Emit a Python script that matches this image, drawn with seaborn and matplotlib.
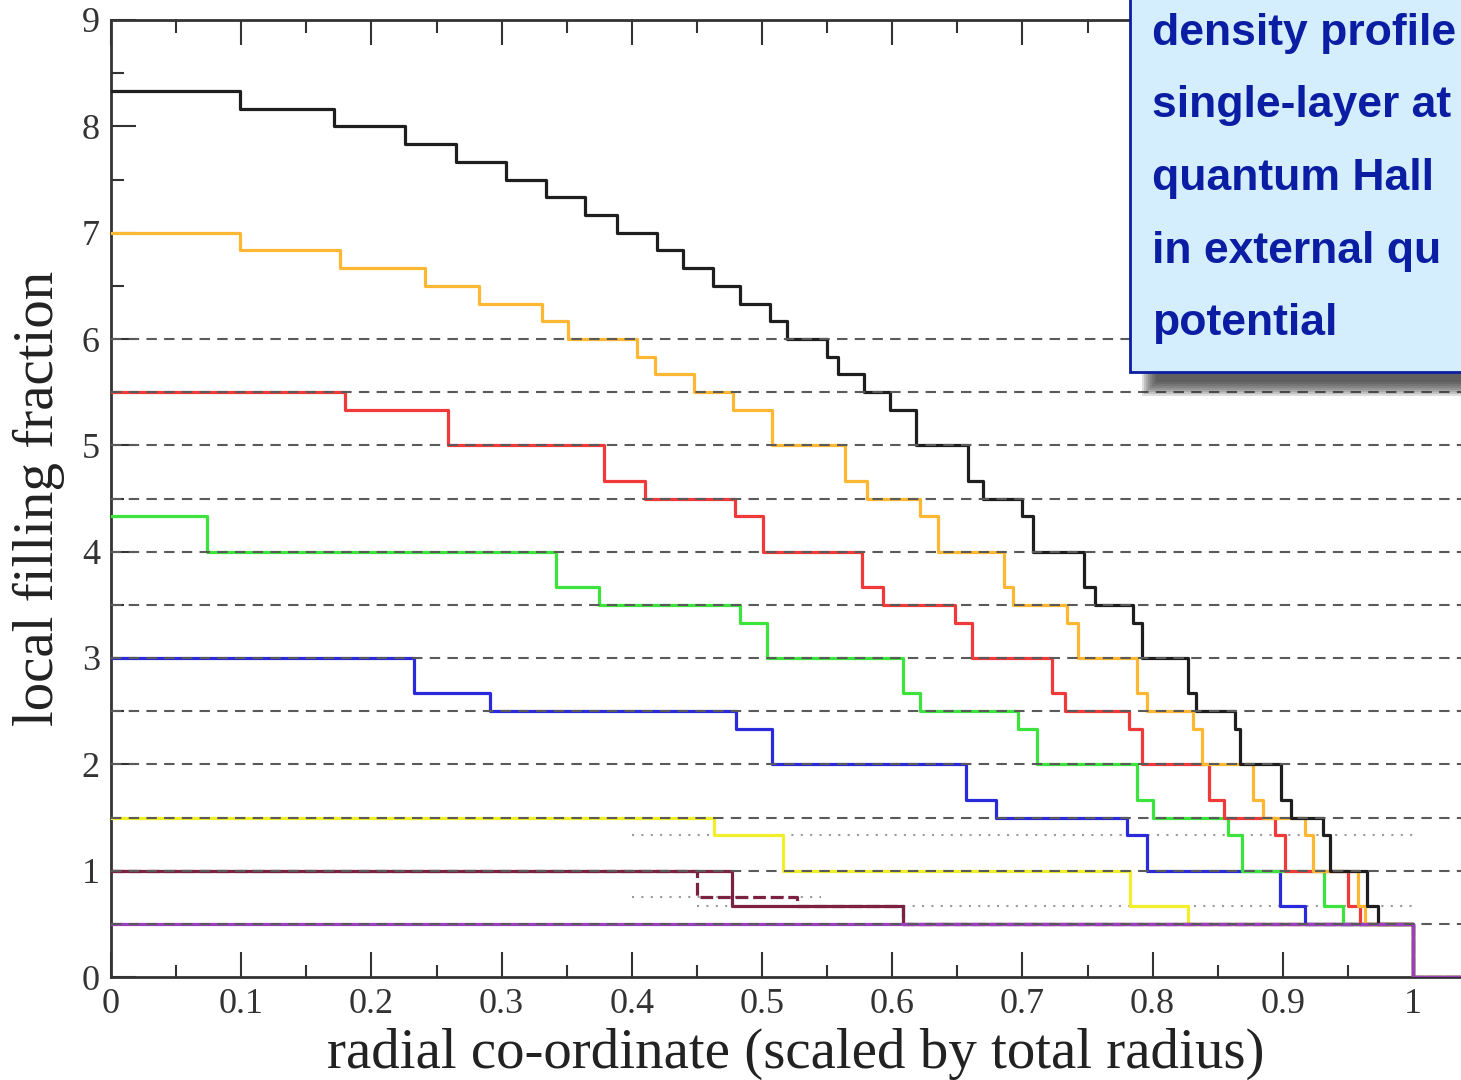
import numpy as np
import pandas as pd
import matplotlib
matplotlib.use("Agg")
import matplotlib.pyplot as plt
from matplotlib.patches import Rectangle
import seaborn as sns

# step positions (radius where each plateau ends) and plateau levels
black_x = [0.099, 0.171, 0.226, 0.265, 0.303, 0.334, 0.364, 0.389, 0.419, 0.439, 0.462, 0.483,
           0.506, 0.519, 0.550, 0.558, 0.578, 0.598, 0.618, 0.658, 0.670, 0.700, 0.708, 0.747,
           0.756, 0.785, 0.792, 0.827, 0.833, 0.863, 0.867, 0.899, 0.906, 0.931, 0.936, 0.965,
           0.973, 1.0]
black_y = [8.333, 8.167, 8.0, 7.833, 7.667, 7.5, 7.333, 7.167, 7.0, 6.833, 6.667, 6.5,
           6.333, 6.167, 6.0, 5.833, 5.667, 5.5, 5.333, 5.0, 4.667, 4.5, 4.333, 4.0,
           3.667, 3.5, 3.333, 3.0, 2.667, 2.5, 2.333, 2.0, 1.667, 1.5, 1.333, 1.0,
           0.667, 0.5]

orange_x = [0.099, 0.176, 0.241, 0.283, 0.331, 0.351, 0.404, 0.418, 0.448, 0.478, 0.508, 0.564,
            0.581, 0.621, 0.635, 0.686, 0.693, 0.734, 0.743, 0.788, 0.796, 0.831, 0.838, 0.877,
            0.885, 0.917, 0.923, 0.958, 0.963, 1.0]
orange_y = [7.0, 6.833, 6.667, 6.5, 6.333, 6.167, 6.0, 5.833, 5.667, 5.5, 5.333, 5.0,
            4.667, 4.5, 4.333, 4.0, 3.667, 3.5, 3.333, 3.0, 2.667, 2.5, 2.333, 2.0,
            1.667, 1.5, 1.333, 1.0, 0.667, 0.5]

red_x = [0.180, 0.259, 0.379, 0.410, 0.479, 0.501, 0.577, 0.593, 0.648, 0.661, 0.723, 0.733,
         0.782, 0.792, 0.843, 0.855, 0.894, 0.902, 0.950, 0.959, 1.0]
red_y = [5.5, 5.333, 5.0, 4.667, 4.5, 4.333, 4.0, 3.667, 3.5, 3.333, 3.0, 2.667,
         2.5, 2.333, 2.0, 1.667, 1.5, 1.333, 1.0, 0.667, 0.5]

green_x = [0.074, 0.342, 0.375, 0.483, 0.504, 0.608, 0.621, 0.697, 0.711, 0.788, 0.800, 0.858,
           0.869, 0.932, 0.946, 1.0]
green_y = [4.333, 4.0, 3.667, 3.5, 3.333, 3.0, 2.667, 2.5, 2.333, 2.0, 1.667, 1.5,
           1.333, 1.0, 0.667, 0.5]

blue_x = [0.233, 0.291, 0.480, 0.508, 0.657, 0.680, 0.780, 0.796, 0.898, 0.917, 1.0]
blue_y = [3.0, 2.667, 2.5, 2.333, 2.0, 1.667, 1.5, 1.333, 1.0, 0.667, 0.5]

yellow_x = [0.463, 0.516, 0.783, 0.827, 1.0]
yellow_y = [1.5, 1.333, 1.0, 0.667, 0.5]

maroon_a_x = [0.450, 0.527, 0.608, 1.0]
maroon_a_y = [1.0, 0.75, 0.667, 0.5]
maroon_b_x = [0.477, 0.608, 1.0]
maroon_b_y = [1.0, 0.667, 0.5]

purple_x = [1.0]
purple_y = [0.5]

# reference plateaus
dashed_levels = [0.5, 1.0, 1.5, 2.0, 2.5, 3.0, 3.5, 4.0, 4.5, 5.0, 5.5, 6.0]
dotted_levels = [4 / 3, 0.75, 2 / 3]
dotted_from = [0.40, 0.40, 0.45]
dotted_to = [1.0, 0.545, 1.0]

box_lines = ["density profile", "single-layer at", "quantum Hall",
             "in external qu", "potential"]

sns.set_style("ticks")
plt.rcParams["font.family"] = ["Liberation Serif", "DejaVu Serif"]

fig = plt.figure(figsize=(14.61, 10.8), dpi=100)
ax = fig.add_axes([111 / 1461, 103 / 1080, 1.1 * 1302 / 1461, 957 / 1080])

X_END = 1.1


def steps(xs, ys):
    # steps-post table: plateau i runs from the previous break up to xs[i]
    x = [0.0] + list(xs) + [X_END]
    y = list(ys) + [0.0, 0.0]
    return pd.DataFrame({"r": x, "nu": y})


series = [
    (yellow_x, yellow_y, "#f2ee2a", "-"),
    (maroon_a_x, maroon_a_y, "#7d2142", (0, (4, 1.5))),
    (maroon_b_x, maroon_b_y, "#7d2142", "-"),
    (blue_x, blue_y, "#2a2adb", "-"),
    (green_x, green_y, "#3ce33c", "-"),
    (red_x, red_y, "#f03a3a", "-"),
    (orange_x, orange_y, "#fdb732", "-"),
    (black_x, black_y, "#1e1e1e", "-"),
    (purple_x, purple_y, "#9a3fc0", "-"),
]
for xs, ys, col, ls in series:
    df = steps(xs, ys)
    sns.lineplot(data=df, x="r", y="nu", ax=ax, color=col, lw=2.3, linestyle=ls,
                 drawstyle="steps-post", sort=False, estimator=None, zorder=3)

for lev in dashed_levels:
    ax.axhline(lev, color="#5a5a5a", lw=1.5, dashes=(5, 3.5), zorder=4)
for lev, a, b in zip(dotted_levels, dotted_from, dotted_to):
    ax.hlines(lev, a, b, color="#9a9a9a", lw=1.5, linestyles=(0, (1, 3.5)), zorder=2)

ax.set_xlim(0, X_END)
ax.set_ylim(0, 9)
ax.set_xticks(np.arange(0, 1.01, 0.1))
ax.set_xticks(np.arange(0.05, 1.1, 0.1), minor=True)
ax.set_xticklabels(["0", "0.1", "0.2", "0.3", "0.4", "0.5", "0.6", "0.7", "0.8", "0.9", "1"])
ax.set_yticks(range(0, 10))
ax.set_yticks(np.arange(0.5, 9, 1.0), minor=True)
ax.tick_params(which="both", direction="in", top=True, right=False, color="#333333",
               labelsize=26, labelcolor="#333333", width=1.5)
ax.tick_params(which="major", length=18, pad=8)
ax.tick_params(which="minor", length=9)
for s in ["left", "bottom", "top"]:
    ax.spines[s].set_color("#333333")
    ax.spines[s].set_linewidth(2)

ax.set_xlabel("radial co-ordinate (scaled by total radius)", fontsize=41, color="#222222")
ax.set_ylabel("local filling fraction", fontsize=41, color="#222222")
ax.xaxis.set_label_coords(0.478, -0.053)
ax.yaxis.set_label_coords(-0.032, 0.5)

# caption box with a soft shadow in the top right corner
for k in range(8):
    left = (1142 + 2 * k) / 1461
    bottom = (1080 - (396 - 2 * k)) / 1080
    fig.add_artist(Rectangle((left, bottom), 0.4, 0.4, transform=fig.transFigure,
                             facecolor="#2e2e2e", edgecolor="none", alpha=0.16, zorder=5))
fig.add_artist(Rectangle((1130 / 1461, 708 / 1080), 0.3, 0.4, transform=fig.transFigure,
                         facecolor="#d4eefd", edgecolor="#0b1ea3", lw=2, zorder=6))
for i, line in enumerate(box_lines):
    fig.text(1152 / 1461, (1080 - 45 - 72.5 * i) / 1080, line, fontsize=32,
             fontweight="bold", color="#0b1ea3", va="baseline", ha="left",
             family=["Liberation Sans", "DejaVu Sans"], zorder=7)

fig.savefig("out.png", dpi=100)
